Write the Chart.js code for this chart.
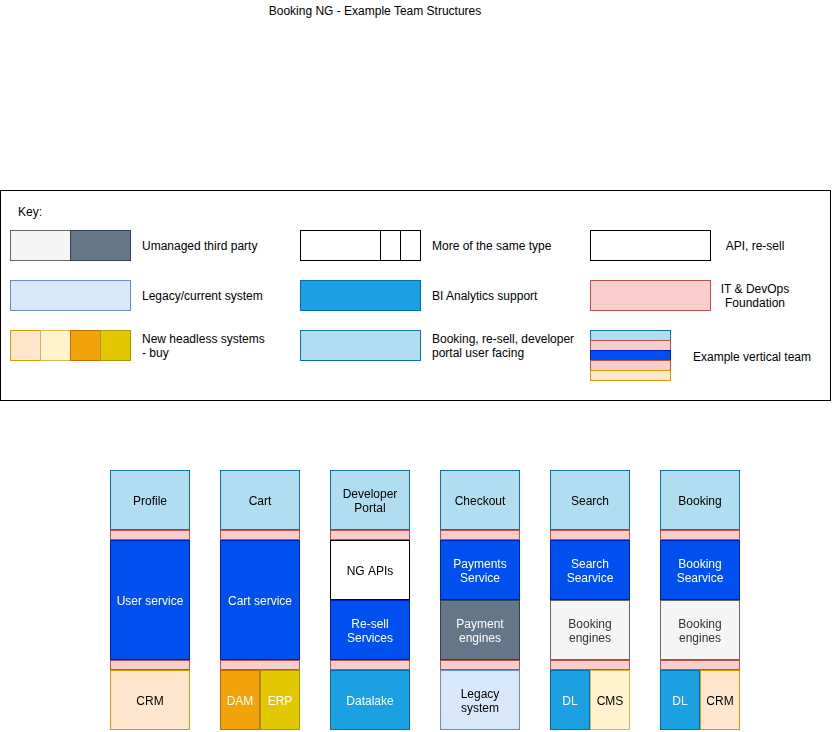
<!DOCTYPE html>
<html>
<head>
<meta charset="utf-8">
<title>Booking NG - Example Team Structures</title>
<script src="https://cdn.jsdelivr.net/npm/chart.js@4/dist/chart.umd.min.js"></script>
<style>
  html, body { margin: 0; padding: 0; background: #fff; }
  body { width: 832px; height: 732px; position: relative; overflow: hidden;
         font-family: "Liberation Sans", Arial, Helvetica, sans-serif; font-size: 12px; color: #000; }
  .abs { position: absolute; }
  .title { left: 0; width: 750px; top: 4px; text-align: center; line-height: 14px; }
  .keybox { left: 0; top: 190px; width: 831px; height: 211px; box-sizing: border-box; border: 1px solid #000; }
  .sw { position: absolute; box-sizing: border-box; border: 1px solid; }
  .txt { position: absolute; line-height: 14px; white-space: nowrap; }
  .ctr { text-align: center; }
  #teams { position: absolute; left: 95px; top: 469px; }
</style>
</head>
<body>
<div class="abs title">Booking NG - Example Team Structures</div>
<div class="abs keybox"></div>
<div id="key"></div>
<canvas id="teams" width="660" height="262"></canvas>
<script>
// Team columns, left to right
const teamNames = [['Profile'], ['Cart'], ['Developer', 'Portal'], ['Checkout'], ['Search'], ['Booking']];

// Each layer is a [bottom, top] band measured up from the foot of a column
const teamBand = [[200, 260], [200, 260], [200, 260], [200, 260], [200, 260], [200, 260]];
const upperFoundation = [[190, 200], [190, 200], [190, 200], [190, 200], [190, 200], [190, 200]];

const serviceNames = [['User service'], ['Cart service'], ['NG APIs'], ['Payments', 'Service'], ['Search', 'Searvice'], ['Booking', 'Searvice']];
const serviceKinds = ['core', 'core', 'api', 'core', 'core', 'core'];
const serviceBand = [[70, 190], [70, 190], [130, 190], [130, 190], [130, 190], [130, 190]];

const engineNames = [null, null, ['Re-sell', 'Services'], ['Payment', 'engines'], ['Booking', 'engines'], ['Booking', 'engines']];
const engineKinds = [null, null, 'core', 'thirdDark', 'thirdLight', 'thirdLight'];
const engineBand = [null, null, [70, 130], [70, 130], [70, 130], [70, 130]];

const lowerFoundation = [[60, 70], [60, 70], [60, 70], [60, 70], [60, 70], [60, 70]];

const systemNames = [['CRM'], null, ['Datalake'], ['Legacy', 'system'], null, null];
const systemKinds = ['buyPeach', null, 'bi', 'legacy', null, null];
const systemBand = [[0, 60], null, [0, 60], [0, 60], null, null];

const leftSystemNames = [null, ['DAM'], null, null, ['DL'], ['DL']];
const leftSystemKinds = [null, 'buyOrange', null, null, 'bi', 'bi'];
const leftSystemBand = [null, [0, 60], null, null, [0, 60], [0, 60]];

const rightSystemNames = [null, ['ERP'], null, null, ['CMS'], ['CRM']];
const rightSystemKinds = [null, 'buyYellow', null, null, 'buyCream', 'buyPeach'];
const rightSystemBand = [null, [0, 60], null, null, [0, 60], [0, 60]];

const palette = {
  facing:     { fill: '#b1ddf0', stroke: '#10739e', text: '#000000' },
  foundation: { fill: '#f8cecc', stroke: '#b85450', text: '#000000' },
  core:       { fill: '#0050ef', stroke: '#001dbc', text: '#ffffff' },
  api:        { fill: '#ffffff', stroke: '#000000', text: '#000000' },
  thirdDark:  { fill: '#647687', stroke: '#314354', text: '#ffffff' },
  thirdLight: { fill: '#f5f5f5', stroke: '#666666', text: '#333333' },
  legacy:     { fill: '#dae8fc', stroke: '#6c8ebf', text: '#000000' },
  bi:         { fill: '#1ba1e2', stroke: '#006eaf', text: '#ffffff' },
  buyPeach:   { fill: '#ffe6cc', stroke: '#d79b00', text: '#000000' },
  buyCream:   { fill: '#fff2cc', stroke: '#d6b656', text: '#000000' },
  buyOrange:  { fill: '#f0a30a', stroke: '#bd7000', text: '#ffffff' },
  buyYellow:  { fill: '#e3c800', stroke: '#b09500', text: '#ffffff' }
};

// Key entries
const keyItems = [
  { swatches: [['thirdLight', 10, 60], ['thirdDark', 70, 60]], row: 0, label: ['Umanaged third party'], textX: 142 },
  { swatches: [['legacy', 10, 120]], row: 1, label: ['Legacy/current system'], textX: 142 },
  { swatches: [['buyPeach', 10, 30], ['buyCream', 40, 30], ['buyOrange', 70, 30], ['buyYellow', 100, 30]], row: 2, label: ['New headless systems', '- buy'], textX: 142 },
  { swatches: [['api', 300, 80], ['api', 380, 20], ['api', 400, 20]], row: 0, label: ['More of the same type'], textX: 432 },
  { swatches: [['bi', 300, 120]], row: 1, label: ['BI Analytics support'], textX: 432 },
  { swatches: [['facing', 300, 120]], row: 2, label: ['Booking, re-sell, developer', 'portal user facing'], textX: 432 },
  { swatches: [['api', 590, 120]], row: 0, label: ['API, re-sell'], centerX: 755 },
  { swatches: [['foundation', 590, 120]], row: 1, label: ['IT & DevOps', 'Foundation'], centerX: 755 }
];
const verticalTeamStripes = ['facing', 'foundation', 'core', 'foundation', 'buyPeach'];

function buildKey() {
  const key = document.getElementById('key');
  const rowTop = [230, 280, 330];
  let html = '<div class="txt" style="left:18px;top:205px">Key:</div>';
  keyItems.forEach(item => {
    const top = rowTop[item.row];
    item.swatches.forEach(([kind, left, w]) => {
      const p = palette[kind];
      html += `<div class="sw" style="left:${left}px;top:${top}px;width:${w + 1}px;height:31px;background:${p.fill};border-color:${p.stroke}"></div>`;
    });
    const textTop = top + 16 - item.label.length * 7;
    if (item.centerX) {
      html += `<div class="txt ctr" style="left:${item.centerX - 60}px;width:120px;top:${textTop}px">${item.label.join('<br>').replace('&', '&amp;')}</div>`;
    } else {
      html += `<div class="txt" style="left:${item.textX}px;top:${textTop}px">${item.label.join('<br>')}</div>`;
    }
  });
  verticalTeamStripes.forEach((kind, i) => {
    const p = palette[kind];
    html += `<div class="sw" style="left:590px;top:${330 + i * 10}px;width:81px;height:11px;background:${p.fill};border-color:${p.stroke}"></div>`;
  });
  html += '<div class="txt ctr" style="left:692px;width:120px;top:350px">Example vertical team</div>';
  key.innerHTML = html;
}
buildKey();

function layer(data, kinds, names, extra) {
  return Object.assign({
    data,
    kinds,
    names,
    backgroundColor: kinds.map(k => k ? palette[k].fill : 'transparent'),
    borderColor: kinds.map(k => k ? palette[k].stroke : 'transparent'),
    borderWidth: 1,
    borderSkipped: false,
    inflateAmount: 0,
    barThickness: 80,
    grouped: false
  }, extra || {});
}

const allFacing = teamNames.map(() => 'facing');
const allFoundation = teamNames.map(() => 'foundation');
const noNames = teamNames.map(() => null);

// Text inside each cell
const cellText = {
  id: 'cellText',
  afterDatasetsDraw(chart) {
    const ctx = chart.ctx;
    ctx.save();
    ctx.font = '12px "Liberation Sans", Arial, Helvetica, sans-serif';
    ctx.textAlign = 'center';
    ctx.textBaseline = 'middle';
    chart.data.datasets.forEach((ds, di) => {
      chart.getDatasetMeta(di).data.forEach((bar, i) => {
        const lines = ds.names[i];
        if (!lines || ds.data[i] == null) return;
        ctx.fillStyle = palette[ds.kinds[i]].text;
        const cy = (bar.y + bar.base) / 2 + 2;
        lines.forEach((line, k) => {
          ctx.fillText(line, bar.x, cy + (k - (lines.length - 1) / 2) * 14);
        });
      });
    });
    ctx.restore();
  }
};

new Chart(document.getElementById('teams'), {
  type: 'bar',
  data: {
    labels: teamNames.map(n => n.join(' ')),
    datasets: [
      layer(teamBand, allFacing, teamNames),
      layer(upperFoundation, allFoundation, noNames),
      layer(serviceBand, serviceKinds, serviceNames),
      layer(engineBand, engineKinds, engineNames),
      layer(lowerFoundation, allFoundation, noNames),
      layer(systemBand, systemKinds, systemNames),
      layer(leftSystemBand, leftSystemKinds, leftSystemNames, { grouped: true, stack: 'left', barThickness: 40 }),
      layer(rightSystemBand, rightSystemKinds, rightSystemNames, { grouped: true, stack: 'right', barThickness: 40 })
    ]
  },
  options: {
    responsive: false,
    animation: false,
    events: [],
    layout: { padding: { top: 1, bottom: 1, left: 0, right: 0 } },
    plugins: { legend: { display: false }, tooltip: { enabled: false } },
    scales: {
      x: { display: false, offset: true },
      y: { display: false, min: 0, max: 260 }
    }
  },
  plugins: [cellText]
});
</script>
</body>
</html>
